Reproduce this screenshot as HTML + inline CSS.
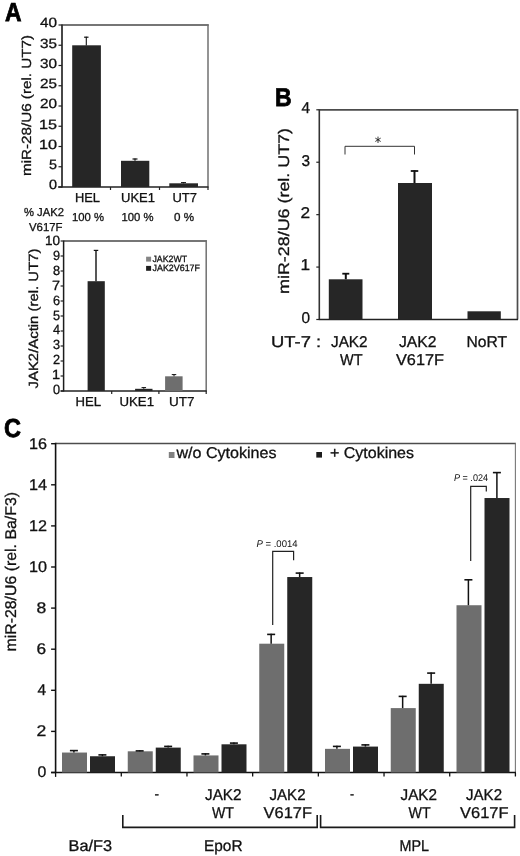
<!DOCTYPE html>
<html><head><meta charset="utf-8"><title>Figure</title>
<style>
html,body{margin:0;padding:0;background:#fff;}
svg{display:block;font-family:"Liberation Sans",sans-serif;filter:grayscale(1);text-rendering:geometricPrecision;}
</style></head>
<body>
<svg width="520" height="856" viewBox="0 0 520 856">
<rect x="0" y="0" width="520" height="856" fill="#ffffff"/>
<line x1="62.00" y1="25.00" x2="208.70" y2="25.00" stroke="#484848" stroke-width="1.3"/>
<line x1="208.00" y1="24.40" x2="208.00" y2="187.00" stroke="#707070" stroke-width="1.5"/>
<line x1="62.00" y1="24.50" x2="62.00" y2="187.50" stroke="#333" stroke-width="1.8"/>
<line x1="58.20" y1="187.00" x2="208.50" y2="187.00" stroke="#222" stroke-width="1.6"/>
<line x1="58.50" y1="187.00" x2="62.00" y2="187.00" stroke="#222" stroke-width="1.2"/>
<line x1="58.50" y1="166.75" x2="62.00" y2="166.75" stroke="#222" stroke-width="1.2"/>
<line x1="58.50" y1="146.50" x2="62.00" y2="146.50" stroke="#222" stroke-width="1.2"/>
<line x1="58.50" y1="126.25" x2="62.00" y2="126.25" stroke="#222" stroke-width="1.2"/>
<line x1="58.50" y1="106.00" x2="62.00" y2="106.00" stroke="#222" stroke-width="1.2"/>
<line x1="58.50" y1="85.75" x2="62.00" y2="85.75" stroke="#222" stroke-width="1.2"/>
<line x1="58.50" y1="65.50" x2="62.00" y2="65.50" stroke="#222" stroke-width="1.2"/>
<line x1="58.50" y1="45.25" x2="62.00" y2="45.25" stroke="#222" stroke-width="1.2"/>
<line x1="58.50" y1="25.00" x2="62.00" y2="25.00" stroke="#222" stroke-width="1.2"/>
<line x1="110.50" y1="187.00" x2="110.50" y2="190.00" stroke="#222" stroke-width="1.2"/>
<line x1="159.50" y1="187.00" x2="159.50" y2="190.00" stroke="#222" stroke-width="1.2"/>
<line x1="208.00" y1="187.00" x2="208.00" y2="190.00" stroke="#222" stroke-width="1.2"/>
<rect x="72.20" y="45.30" width="28.70" height="141.70" fill="#262626"/>
<line x1="86.30" y1="36.80" x2="86.30" y2="45.50" stroke="#111" stroke-width="1.1"/>
<line x1="84.10" y1="37.20" x2="88.50" y2="37.20" stroke="#111" stroke-width="1.2"/>
<rect x="121.00" y="160.80" width="28.30" height="26.20" fill="#262626"/>
<line x1="135.00" y1="158.60" x2="135.00" y2="160.80" stroke="#111" stroke-width="1.2"/>
<line x1="132.50" y1="159.00" x2="137.50" y2="159.00" stroke="#111" stroke-width="1.2"/>
<rect x="169.30" y="183.30" width="28.70" height="3.70" fill="#262626"/>
<line x1="183.50" y1="182.30" x2="183.50" y2="183.30" stroke="#111" stroke-width="1"/>
<line x1="181.00" y1="182.60" x2="186.00" y2="182.60" stroke="#111" stroke-width="1"/>
<line x1="63.60" y1="241.00" x2="206.90" y2="241.00" stroke="#484848" stroke-width="1.3"/>
<line x1="206.20" y1="240.40" x2="206.20" y2="391.00" stroke="#707070" stroke-width="1.5"/>
<line x1="63.60" y1="240.50" x2="63.60" y2="391.50" stroke="#1c1c1c" stroke-width="1.5"/>
<line x1="60.60" y1="391.00" x2="206.70" y2="391.00" stroke="#222" stroke-width="1.6"/>
<line x1="60.60" y1="391.00" x2="63.60" y2="391.00" stroke="#222" stroke-width="1.2"/>
<line x1="60.60" y1="376.00" x2="63.60" y2="376.00" stroke="#222" stroke-width="1.2"/>
<line x1="60.60" y1="361.00" x2="63.60" y2="361.00" stroke="#222" stroke-width="1.2"/>
<line x1="60.60" y1="346.00" x2="63.60" y2="346.00" stroke="#222" stroke-width="1.2"/>
<line x1="60.60" y1="331.00" x2="63.60" y2="331.00" stroke="#222" stroke-width="1.2"/>
<line x1="60.60" y1="316.00" x2="63.60" y2="316.00" stroke="#222" stroke-width="1.2"/>
<line x1="60.60" y1="301.00" x2="63.60" y2="301.00" stroke="#222" stroke-width="1.2"/>
<line x1="60.60" y1="286.00" x2="63.60" y2="286.00" stroke="#222" stroke-width="1.2"/>
<line x1="60.60" y1="271.00" x2="63.60" y2="271.00" stroke="#222" stroke-width="1.2"/>
<line x1="60.60" y1="256.00" x2="63.60" y2="256.00" stroke="#222" stroke-width="1.2"/>
<line x1="60.60" y1="241.00" x2="63.60" y2="241.00" stroke="#222" stroke-width="1.2"/>
<line x1="111.70" y1="391.00" x2="111.70" y2="394.00" stroke="#222" stroke-width="1.2"/>
<line x1="158.90" y1="391.00" x2="158.90" y2="394.00" stroke="#222" stroke-width="1.2"/>
<line x1="206.20" y1="391.00" x2="206.20" y2="394.00" stroke="#222" stroke-width="1.2"/>
<rect x="87.60" y="281.20" width="17.20" height="109.80" fill="#262626"/>
<line x1="96.00" y1="250.00" x2="96.00" y2="281.30" stroke="#111" stroke-width="1.4"/>
<line x1="93.75" y1="250.40" x2="98.25" y2="250.40" stroke="#111" stroke-width="1.2"/>
<rect x="135.10" y="388.80" width="17.40" height="2.20" fill="#262626"/>
<line x1="143.80" y1="387.30" x2="143.80" y2="388.80" stroke="#111" stroke-width="1"/>
<line x1="141.55" y1="387.60" x2="146.05" y2="387.60" stroke="#111" stroke-width="1"/>
<rect x="165.10" y="376.30" width="17.50" height="14.70" fill="#6e6e6e"/>
<line x1="174.00" y1="374.30" x2="174.00" y2="376.30" stroke="#111" stroke-width="1"/>
<line x1="171.75" y1="374.60" x2="176.25" y2="374.60" stroke="#111" stroke-width="1"/>
<rect x="146.10" y="256.70" width="5.00" height="4.90" fill="#858585"/>
<rect x="146.10" y="265.90" width="5.00" height="4.90" fill="#1e1e1e"/>
<polyline points="319.30,109.80 517.50,109.80 517.50,319.50" fill="none" stroke="#4c4c4c" stroke-width="1.7"/>
<line x1="319.30" y1="109.30" x2="319.30" y2="320.00" stroke="#333" stroke-width="1.6"/>
<line x1="318.80" y1="319.50" x2="518.00" y2="319.50" stroke="#222" stroke-width="1.6"/>
<line x1="316.30" y1="319.50" x2="319.30" y2="319.50" stroke="#222" stroke-width="1.2"/>
<line x1="316.30" y1="267.07" x2="319.30" y2="267.07" stroke="#222" stroke-width="1.2"/>
<line x1="316.30" y1="214.65" x2="319.30" y2="214.65" stroke="#222" stroke-width="1.2"/>
<line x1="316.30" y1="162.23" x2="319.30" y2="162.23" stroke="#222" stroke-width="1.2"/>
<line x1="316.30" y1="109.80" x2="319.30" y2="109.80" stroke="#222" stroke-width="1.2"/>
<rect x="328.80" y="279.30" width="33.70" height="40.20" fill="#262626"/>
<line x1="345.80" y1="273.00" x2="345.80" y2="279.30" stroke="#111" stroke-width="2"/>
<line x1="342.30" y1="273.70" x2="349.30" y2="273.70" stroke="#111" stroke-width="1.8"/>
<rect x="398.00" y="183.00" width="34.00" height="136.50" fill="#262626"/>
<line x1="414.50" y1="170.30" x2="414.50" y2="183.00" stroke="#111" stroke-width="2"/>
<line x1="410.75" y1="171.00" x2="418.25" y2="171.00" stroke="#111" stroke-width="1.8"/>
<rect x="467.50" y="311.30" width="33.30" height="8.20" fill="#262626"/>
<polyline points="345.00,154.50 345.00,146.30 414.50,146.30 414.50,154.50" fill="none" stroke="#333" stroke-width="1"/>
<line x1="378.00" y1="136.60" x2="378.00" y2="143.00" stroke="#222" stroke-width="0.9"/>
<line x1="375.30" y1="138.10" x2="380.70" y2="141.50" stroke="#222" stroke-width="0.9"/>
<line x1="375.30" y1="141.50" x2="380.70" y2="138.10" stroke="#222" stroke-width="0.9"/>
<line x1="55.60" y1="443.50" x2="515.90" y2="443.50" stroke="#4c4c4c" stroke-width="1.5"/>
<line x1="515.40" y1="443.30" x2="515.40" y2="772.50" stroke="#787878" stroke-width="1.1"/>
<line x1="55.60" y1="442.80" x2="55.60" y2="773.00" stroke="#111" stroke-width="1.6"/>
<line x1="51.10" y1="772.50" x2="515.90" y2="772.50" stroke="#111" stroke-width="1.5"/>
<line x1="55.60" y1="772.50" x2="55.60" y2="776.90" stroke="#111" stroke-width="1.3"/>
<line x1="51.10" y1="772.50" x2="55.60" y2="772.50" stroke="#111" stroke-width="1.4"/>
<line x1="51.10" y1="731.40" x2="55.60" y2="731.40" stroke="#111" stroke-width="1.4"/>
<line x1="51.10" y1="690.30" x2="55.60" y2="690.30" stroke="#111" stroke-width="1.4"/>
<line x1="51.10" y1="649.20" x2="55.60" y2="649.20" stroke="#111" stroke-width="1.4"/>
<line x1="51.10" y1="608.10" x2="55.60" y2="608.10" stroke="#111" stroke-width="1.4"/>
<line x1="51.10" y1="567.00" x2="55.60" y2="567.00" stroke="#111" stroke-width="1.4"/>
<line x1="51.10" y1="525.90" x2="55.60" y2="525.90" stroke="#111" stroke-width="1.4"/>
<line x1="51.10" y1="484.80" x2="55.60" y2="484.80" stroke="#111" stroke-width="1.4"/>
<line x1="51.10" y1="443.70" x2="55.60" y2="443.70" stroke="#111" stroke-width="1.4"/>
<line x1="121.29" y1="772.50" x2="121.29" y2="776.50" stroke="#111" stroke-width="1.3"/>
<line x1="186.97" y1="772.50" x2="186.97" y2="776.50" stroke="#111" stroke-width="1.3"/>
<line x1="252.66" y1="772.50" x2="252.66" y2="776.50" stroke="#111" stroke-width="1.3"/>
<line x1="318.34" y1="772.50" x2="318.34" y2="776.50" stroke="#111" stroke-width="1.3"/>
<line x1="384.03" y1="772.50" x2="384.03" y2="776.50" stroke="#111" stroke-width="1.3"/>
<line x1="449.71" y1="772.50" x2="449.71" y2="776.50" stroke="#111" stroke-width="1.3"/>
<line x1="515.40" y1="772.50" x2="515.40" y2="776.50" stroke="#111" stroke-width="1.3"/>
<rect x="62.00" y="752.54" width="25.00" height="19.96" fill="#6e6e6e"/>
<line x1="73.90" y1="750.00" x2="73.90" y2="752.54" stroke="#111" stroke-width="1.5"/>
<line x1="69.90" y1="750.60" x2="77.90" y2="750.60" stroke="#111" stroke-width="1.6"/>
<rect x="90.00" y="756.25" width="25.00" height="16.25" fill="#262626"/>
<line x1="102.40" y1="754.30" x2="102.40" y2="756.25" stroke="#111" stroke-width="1.5"/>
<line x1="98.40" y1="754.90" x2="106.40" y2="754.90" stroke="#111" stroke-width="1.6"/>
<rect x="127.75" y="751.31" width="25.00" height="21.19" fill="#6e6e6e"/>
<line x1="139.65" y1="750.30" x2="139.65" y2="751.31" stroke="#111" stroke-width="1.5"/>
<line x1="135.65" y1="750.90" x2="143.65" y2="750.90" stroke="#111" stroke-width="1.6"/>
<rect x="155.75" y="747.60" width="25.00" height="24.90" fill="#262626"/>
<line x1="168.15" y1="745.80" x2="168.15" y2="747.60" stroke="#111" stroke-width="1.5"/>
<line x1="164.15" y1="746.40" x2="172.15" y2="746.40" stroke="#111" stroke-width="1.6"/>
<rect x="193.50" y="755.42" width="25.00" height="17.08" fill="#6e6e6e"/>
<line x1="205.40" y1="753.30" x2="205.40" y2="755.42" stroke="#111" stroke-width="1.5"/>
<line x1="201.40" y1="753.90" x2="209.40" y2="753.90" stroke="#111" stroke-width="1.6"/>
<rect x="221.50" y="744.31" width="25.00" height="28.19" fill="#262626"/>
<line x1="233.90" y1="742.50" x2="233.90" y2="744.31" stroke="#111" stroke-width="1.5"/>
<line x1="229.90" y1="743.10" x2="237.90" y2="743.10" stroke="#111" stroke-width="1.6"/>
<rect x="259.25" y="643.70" width="25.00" height="128.80" fill="#6e6e6e"/>
<line x1="271.15" y1="633.80" x2="271.15" y2="643.70" stroke="#111" stroke-width="1.5"/>
<line x1="267.15" y1="634.40" x2="275.15" y2="634.40" stroke="#111" stroke-width="1.6"/>
<rect x="287.25" y="577.04" width="25.00" height="195.46" fill="#262626"/>
<line x1="299.65" y1="572.50" x2="299.65" y2="577.04" stroke="#111" stroke-width="1.5"/>
<line x1="295.65" y1="573.10" x2="303.65" y2="573.10" stroke="#111" stroke-width="1.6"/>
<rect x="325.00" y="748.84" width="25.00" height="23.66" fill="#6e6e6e"/>
<line x1="336.90" y1="745.80" x2="336.90" y2="748.84" stroke="#111" stroke-width="1.5"/>
<line x1="332.90" y1="746.40" x2="340.90" y2="746.40" stroke="#111" stroke-width="1.6"/>
<rect x="353.00" y="746.58" width="25.00" height="25.92" fill="#262626"/>
<line x1="365.40" y1="744.30" x2="365.40" y2="746.58" stroke="#111" stroke-width="1.5"/>
<line x1="361.40" y1="744.90" x2="369.40" y2="744.90" stroke="#111" stroke-width="1.6"/>
<rect x="390.75" y="708.10" width="25.00" height="64.40" fill="#6e6e6e"/>
<line x1="402.65" y1="695.80" x2="402.65" y2="708.10" stroke="#111" stroke-width="1.5"/>
<line x1="398.65" y1="696.40" x2="406.65" y2="696.40" stroke="#111" stroke-width="1.6"/>
<rect x="418.75" y="683.82" width="25.00" height="88.68" fill="#262626"/>
<line x1="431.15" y1="672.50" x2="431.15" y2="683.82" stroke="#111" stroke-width="1.5"/>
<line x1="427.15" y1="673.10" x2="435.15" y2="673.10" stroke="#111" stroke-width="1.6"/>
<rect x="456.50" y="605.23" width="25.00" height="167.27" fill="#6e6e6e"/>
<line x1="468.40" y1="579.20" x2="468.40" y2="605.23" stroke="#111" stroke-width="1.5"/>
<line x1="464.40" y1="579.80" x2="472.40" y2="579.80" stroke="#111" stroke-width="1.6"/>
<rect x="484.50" y="498.03" width="25.00" height="274.47" fill="#262626"/>
<line x1="496.90" y1="472.00" x2="496.90" y2="498.03" stroke="#111" stroke-width="1.5"/>
<line x1="492.90" y1="472.60" x2="500.90" y2="472.60" stroke="#111" stroke-width="1.6"/>
<rect x="168.80" y="452.00" width="5.70" height="6.00" fill="#808080"/>
<rect x="316.30" y="452.00" width="5.70" height="5.60" fill="#1c1c1c"/>
<polyline points="272.70,625.00 272.70,551.30 293.60,551.30 293.60,560.30" fill="none" stroke="#222" stroke-width="1.2"/>
<polyline points="470.70,561.00 470.70,486.30 486.30,486.30 486.30,491.50" fill="none" stroke="#222" stroke-width="1.2"/>
<polyline points="122.80,815.00 122.80,827.40 317.20,827.40 317.20,815.00" fill="none" stroke="#1a1a1a" stroke-width="1.6"/>
<polyline points="320.60,815.00 320.60,827.40 514.60,827.40 514.60,815.00" fill="none" stroke="#1a1a1a" stroke-width="1.6"/>
<text font-size="26" textLength="16.51" lengthAdjust="spacingAndGlyphs" font-weight="bold" fill="#000" stroke="#000" stroke-width="0.8" x="5.00" y="20.80">A</text>
<text font-size="13.4" textLength="8.00" lengthAdjust="spacingAndGlyphs" fill="#111" stroke="#111" stroke-width="0.3" x="49.00" y="189.40">0</text>
<text font-size="13.4" textLength="8.00" lengthAdjust="spacingAndGlyphs" fill="#111" stroke="#111" stroke-width="0.3" x="49.00" y="169.15">5</text>
<text font-size="13.4" textLength="18.06" lengthAdjust="spacingAndGlyphs" fill="#111" stroke="#111" stroke-width="0.3" x="39.00" y="148.90">10</text>
<text font-size="13.4" textLength="18.06" lengthAdjust="spacingAndGlyphs" fill="#111" stroke="#111" stroke-width="0.3" x="39.00" y="128.65">15</text>
<text font-size="13.4" textLength="17.00" lengthAdjust="spacingAndGlyphs" fill="#111" stroke="#111" stroke-width="0.3" x="40.00" y="108.40">20</text>
<text font-size="13.4" textLength="17.00" lengthAdjust="spacingAndGlyphs" fill="#111" stroke="#111" stroke-width="0.3" x="40.00" y="88.15">25</text>
<text font-size="13.4" textLength="17.00" lengthAdjust="spacingAndGlyphs" fill="#111" stroke="#111" stroke-width="0.3" x="40.00" y="67.90">30</text>
<text font-size="13.4" textLength="17.00" lengthAdjust="spacingAndGlyphs" fill="#111" stroke="#111" stroke-width="0.3" x="40.00" y="47.65">35</text>
<text font-size="13.4" textLength="17.00" lengthAdjust="spacingAndGlyphs" fill="#111" stroke="#111" stroke-width="0.3" x="40.00" y="27.40">40</text>
<text font-size="13" textLength="25.00" lengthAdjust="spacingAndGlyphs" fill="#111" stroke="#111" stroke-width="0.3" x="75.00" y="201.50">HEL</text>
<text font-size="13" textLength="34.00" lengthAdjust="spacingAndGlyphs" fill="#111" stroke="#111" stroke-width="0.3" x="121.00" y="201.50">UKE1</text>
<text font-size="13" textLength="24.52" lengthAdjust="spacingAndGlyphs" fill="#111" stroke="#111" stroke-width="0.3" x="172.50" y="201.50">UT7</text>
<text font-size="13.2" textLength="141.01" lengthAdjust="spacingAndGlyphs" fill="#111" stroke="#111" stroke-width="0.3" x="30.80" y="176.00" transform="rotate(-90 30.80 176.00)">miR-28/U6 (rel. UT7)</text>
<text font-size="11.6" textLength="40.00" lengthAdjust="spacingAndGlyphs" fill="#111" stroke="#111" stroke-width="0.3" x="24.00" y="216.00">% JAK2</text>
<text font-size="11.6" textLength="33.51" lengthAdjust="spacingAndGlyphs" fill="#111" stroke="#111" stroke-width="0.3" x="29.00" y="231.00">V617F</text>
<text font-size="11.6" textLength="32.00" lengthAdjust="spacingAndGlyphs" fill="#111" stroke="#111" stroke-width="0.3" x="72.00" y="221.00">100 %</text>
<text font-size="11.6" textLength="32.03" lengthAdjust="spacingAndGlyphs" fill="#111" stroke="#111" stroke-width="0.3" x="121.50" y="221.00">100 %</text>
<text font-size="11.6" textLength="20.05" lengthAdjust="spacingAndGlyphs" fill="#111" stroke="#111" stroke-width="0.3" x="174.00" y="221.00">0 %</text>
<text font-size="13.4" textLength="7.08" lengthAdjust="spacingAndGlyphs" fill="#111" stroke="#111" stroke-width="0.3" x="53.00" y="394.00">0</text>
<text font-size="13.4" textLength="8.09" lengthAdjust="spacingAndGlyphs" fill="#111" stroke="#111" stroke-width="0.3" x="52.00" y="379.10">1</text>
<text font-size="13.4" textLength="7.08" lengthAdjust="spacingAndGlyphs" fill="#111" stroke="#111" stroke-width="0.3" x="53.00" y="364.20">2</text>
<text font-size="13.4" textLength="7.08" lengthAdjust="spacingAndGlyphs" fill="#111" stroke="#111" stroke-width="0.3" x="53.00" y="349.30">3</text>
<text font-size="13.4" textLength="7.08" lengthAdjust="spacingAndGlyphs" fill="#111" stroke="#111" stroke-width="0.3" x="53.00" y="334.40">4</text>
<text font-size="13.4" textLength="7.08" lengthAdjust="spacingAndGlyphs" fill="#111" stroke="#111" stroke-width="0.3" x="53.00" y="319.50">5</text>
<text font-size="13.4" textLength="7.08" lengthAdjust="spacingAndGlyphs" fill="#111" stroke="#111" stroke-width="0.3" x="53.00" y="304.60">6</text>
<text font-size="13.4" textLength="8.09" lengthAdjust="spacingAndGlyphs" fill="#111" stroke="#111" stroke-width="0.3" x="52.00" y="289.70">7</text>
<text font-size="13.4" textLength="7.08" lengthAdjust="spacingAndGlyphs" fill="#111" stroke="#111" stroke-width="0.3" x="53.00" y="274.80">8</text>
<text font-size="13.4" textLength="7.08" lengthAdjust="spacingAndGlyphs" fill="#111" stroke="#111" stroke-width="0.3" x="53.00" y="259.90">9</text>
<text font-size="13.4" textLength="15.03" lengthAdjust="spacingAndGlyphs" fill="#111" stroke="#111" stroke-width="0.3" x="45.00" y="245.00">10</text>
<text font-size="13" textLength="25.58" lengthAdjust="spacingAndGlyphs" fill="#111" stroke="#111" stroke-width="0.3" x="75.50" y="406.00">HEL</text>
<text font-size="13" textLength="34.52" lengthAdjust="spacingAndGlyphs" fill="#111" stroke="#111" stroke-width="0.3" x="119.50" y="406.00">UKE1</text>
<text font-size="13" textLength="25.52" lengthAdjust="spacingAndGlyphs" fill="#111" stroke="#111" stroke-width="0.3" x="169.00" y="406.00">UT7</text>
<text font-size="13.3" textLength="140.01" lengthAdjust="spacingAndGlyphs" fill="#111" stroke="#111" stroke-width="0.3" x="37.80" y="388.50" transform="rotate(-90 37.80 388.50)">JAK2/Actin (rel. UT7)</text>
<text font-size="9.2" textLength="34.51" lengthAdjust="spacingAndGlyphs" fill="#111" stroke="#111" stroke-width="0.3" x="152.50" y="261.80">JAK2WT</text>
<text font-size="9.2" textLength="47.51" lengthAdjust="spacingAndGlyphs" fill="#111" stroke="#111" stroke-width="0.3" x="152.50" y="271.30">JAK2V617F</text>
<text font-size="25.6" textLength="16.64" lengthAdjust="spacingAndGlyphs" font-weight="bold" fill="#000" stroke="#000" stroke-width="0.8" x="275.00" y="105.60">B</text>
<text font-size="15.6" textLength="8.55" lengthAdjust="spacingAndGlyphs" fill="#111" stroke="#111" stroke-width="0.3" x="301.50" y="322.80">0</text>
<text font-size="15.6" textLength="9.61" lengthAdjust="spacingAndGlyphs" fill="#111" stroke="#111" stroke-width="0.3" x="300.50" y="270.38">1</text>
<text font-size="15.6" textLength="9.61" lengthAdjust="spacingAndGlyphs" fill="#111" stroke="#111" stroke-width="0.3" x="300.50" y="217.95">2</text>
<text font-size="15.6" textLength="8.55" lengthAdjust="spacingAndGlyphs" fill="#111" stroke="#111" stroke-width="0.3" x="301.50" y="165.53">3</text>
<text font-size="15.6" textLength="8.55" lengthAdjust="spacingAndGlyphs" fill="#111" stroke="#111" stroke-width="0.3" x="301.50" y="113.10">4</text>
<text font-size="15.3" textLength="166.01" lengthAdjust="spacingAndGlyphs" fill="#111" stroke="#111" stroke-width="0.3" x="288.50" y="294.00" transform="rotate(-90 288.50 294.00)">miR-28/U6 (rel. UT7)</text>
<text font-size="15.6" textLength="50.09" lengthAdjust="spacingAndGlyphs" fill="#111" stroke="#111" stroke-width="0.3" x="271.00" y="346.80">UT-7 :</text>
<text font-size="15.6" textLength="36.54" lengthAdjust="spacingAndGlyphs" fill="#111" stroke="#111" stroke-width="0.3" x="331.00" y="346.80">JAK2</text>
<text font-size="15.6" textLength="37.51" lengthAdjust="spacingAndGlyphs" fill="#111" stroke="#111" stroke-width="0.3" x="399.00" y="346.80">JAK2</text>
<text font-size="15.6" textLength="40.53" lengthAdjust="spacingAndGlyphs" fill="#111" stroke="#111" stroke-width="0.3" x="466.50" y="346.80">NoRT</text>
<text font-size="15.6" textLength="22.52" lengthAdjust="spacingAndGlyphs" fill="#111" stroke="#111" stroke-width="0.3" x="340.00" y="365.40">WT</text>
<text font-size="15.6" textLength="48.00" lengthAdjust="spacingAndGlyphs" fill="#111" stroke="#111" stroke-width="0.3" x="396.00" y="365.40">V617F</text>
<text font-size="26" textLength="17.02" lengthAdjust="spacingAndGlyphs" font-weight="bold" fill="#000" stroke="#000" stroke-width="0.8" x="4.00" y="437.10">C</text>
<text font-size="15.5" textLength="8.80" lengthAdjust="spacingAndGlyphs" fill="#111" stroke="#111" stroke-width="0.3" x="37.50" y="777.40">0</text>
<text font-size="15.5" textLength="9.78" lengthAdjust="spacingAndGlyphs" fill="#111" stroke="#111" stroke-width="0.3" x="36.50" y="736.30">2</text>
<text font-size="15.5" textLength="8.56" lengthAdjust="spacingAndGlyphs" fill="#111" stroke="#111" stroke-width="0.3" x="37.50" y="695.20">4</text>
<text font-size="15.5" textLength="9.63" lengthAdjust="spacingAndGlyphs" fill="#111" stroke="#111" stroke-width="0.3" x="36.50" y="654.10">6</text>
<text font-size="15.5" textLength="9.78" lengthAdjust="spacingAndGlyphs" fill="#111" stroke="#111" stroke-width="0.3" x="36.50" y="613.00">8</text>
<text font-size="15.5" textLength="18.02" lengthAdjust="spacingAndGlyphs" fill="#111" stroke="#111" stroke-width="0.3" x="29.00" y="571.90">10</text>
<text font-size="15.5" textLength="18.02" lengthAdjust="spacingAndGlyphs" fill="#111" stroke="#111" stroke-width="0.3" x="29.00" y="530.80">12</text>
<text font-size="15.5" textLength="18.02" lengthAdjust="spacingAndGlyphs" fill="#111" stroke="#111" stroke-width="0.3" x="29.00" y="489.70">14</text>
<text font-size="15.5" textLength="18.02" lengthAdjust="spacingAndGlyphs" fill="#111" stroke="#111" stroke-width="0.3" x="29.00" y="448.60">16</text>
<text font-size="15.6" textLength="100.00" lengthAdjust="spacingAndGlyphs" fill="#111" stroke="#111" stroke-width="0.3" x="176.50" y="458.00">w/o Cytokines</text>
<text font-size="15.6" textLength="84.00" lengthAdjust="spacingAndGlyphs" fill="#111" stroke="#111" stroke-width="0.3" x="330.00" y="458.00">+ Cytokines</text>
<text font-size="9.7" textLength="41.03" lengthAdjust="spacingAndGlyphs" fill="#111" x="256.50" y="546.60"><tspan font-style="italic">P</tspan> = .0014</text>
<text font-size="9.7" textLength="34.01" lengthAdjust="spacingAndGlyphs" fill="#111" x="454.00" y="481.30"><tspan font-style="italic">P</tspan> = .024</text>
<text font-size="15.5" textLength="159.51" lengthAdjust="spacingAndGlyphs" fill="#111" stroke="#111" stroke-width="0.3" x="15.60" y="651.50" transform="rotate(-90 15.60 651.50)">miR-28/U6 (rel. Ba/F3)</text>
<text font-size="15.7" textLength="4.53" lengthAdjust="spacingAndGlyphs" fill="#111" stroke="#111" stroke-width="0.3" x="154.50" y="798.80">-</text>
<text font-size="15.7" textLength="4.12" lengthAdjust="spacingAndGlyphs" fill="#111" stroke="#111" stroke-width="0.3" x="350.00" y="798.80">-</text>
<text font-size="15.7" textLength="36.50" lengthAdjust="spacingAndGlyphs" fill="#111" stroke="#111" stroke-width="0.3" x="205.00" y="800.00">JAK2</text>
<text font-size="15.7" textLength="22.03" lengthAdjust="spacingAndGlyphs" fill="#111" stroke="#111" stroke-width="0.3" x="212.00" y="817.80">WT</text>
<text font-size="15.7" textLength="36.04" lengthAdjust="spacingAndGlyphs" fill="#111" stroke="#111" stroke-width="0.3" x="269.50" y="800.00">JAK2</text>
<text font-size="15.7" textLength="48.50" lengthAdjust="spacingAndGlyphs" fill="#111" stroke="#111" stroke-width="0.3" x="263.50" y="817.80">V617F</text>
<text font-size="15.7" textLength="36.51" lengthAdjust="spacingAndGlyphs" fill="#111" stroke="#111" stroke-width="0.3" x="400.50" y="800.00">JAK2</text>
<text font-size="15.7" textLength="22.07" lengthAdjust="spacingAndGlyphs" fill="#111" stroke="#111" stroke-width="0.3" x="408.50" y="817.80">WT</text>
<text font-size="15.7" textLength="36.01" lengthAdjust="spacingAndGlyphs" fill="#111" stroke="#111" stroke-width="0.3" x="466.00" y="800.00">JAK2</text>
<text font-size="15.7" textLength="48.51" lengthAdjust="spacingAndGlyphs" fill="#111" stroke="#111" stroke-width="0.3" x="460.00" y="817.80">V617F</text>
<text font-size="15.7" textLength="43.52" lengthAdjust="spacingAndGlyphs" fill="#111" stroke="#111" stroke-width="0.3" x="68.50" y="851.30">Ba/F3</text>
<text font-size="15.7" textLength="38.54" lengthAdjust="spacingAndGlyphs" fill="#111" stroke="#111" stroke-width="0.3" x="204.00" y="851.30">EpoR</text>
<text font-size="15.7" textLength="29.54" lengthAdjust="spacingAndGlyphs" fill="#111" stroke="#111" stroke-width="0.3" x="399.50" y="851.30">MPL</text>
</svg>
</body></html>
